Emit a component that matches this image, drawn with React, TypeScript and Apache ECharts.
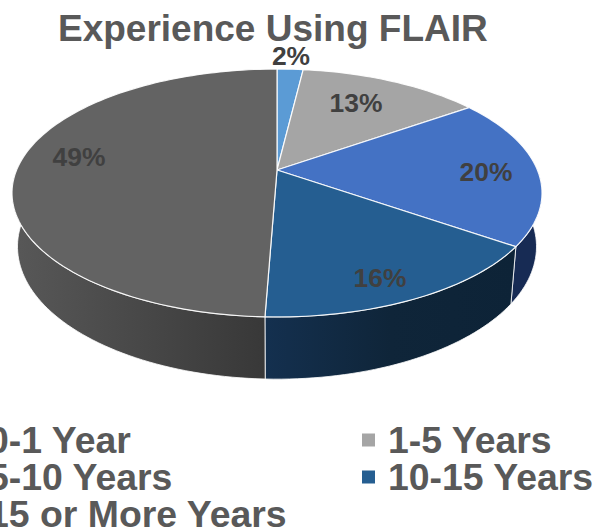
import React, { useEffect, useRef } from "react";
import * as echarts from "echarts";

const categories = ["0-1 Year", "1-5 Years", "5-10 Years", "10-15 Years", "15 or More Years"];
const values = [1.9, 13.3, 19.5, 15.9, 49.4];
const percentLabels = ["2%", "13%", "20%", "16%", "49%"];

const topColors = ["#5B9BD5", "#A5A5A5", "#4472C4", "#255E91", "#636363"];

// layout (pixels of the 602x529 page)
const APEX = { x: 277, y: 170 };
const TOP = { a: 119.7, b: 260.4, k: 0.1855, y0: 170 };
const BOTTOM = { a: 128, b: 255, k: 0.1855, y0: 222 };
const WALL_RANGE = [85, 275];
const LABEL_POS = [
  [291, 56],
  [356, 103],
  [486, 172],
  [380, 278],
  [79, 157],
];
const LEGEND_POS = [
  [-38, 421.5],
  [362, 421.5],
  [-38, 458.5],
  [362, 458.5],
  [-38, 495],
];
const FONT = "'Liberation Sans', Arial, sans-serif";

const wallFill = (i: number): any => {
  if (i === 2) return "#172B54";
  if (i === 3)
    return new echarts.graphic.LinearGradient(0, 0, 1, 0, [
      { offset: 0, color: "#14304F" },
      { offset: 0.5, color: "#0F2539" },
      { offset: 1, color: "#0D2337" },
    ]);
  if (i === 4)
    return new echarts.graphic.LinearGradient(0, 0, 1, 0, [
      { offset: 0, color: "#585858" },
      { offset: 1, color: "#383838" },
    ]);
  return "#333";
};

const project = (deg: number, g: typeof TOP) => {
  const t = (deg * Math.PI) / 180;
  const X = Math.sin(t);
  const Y = -Math.cos(t);
  const w = 1 - g.k * Y;
  return [APEX.x + (g.b * X) / w, g.y0 + (g.a * Y) / w];
};

const arc = (from: number, to: number, g: typeof TOP) => {
  const n = Math.max(2, Math.ceil(Math.abs(to - from) / 1.5));
  const pts: number[][] = [];
  for (let i = 0; i <= n; i++) pts.push(project(from + ((to - from) * i) / n, g));
  return pts;
};

export default function App() {
  const ref = useRef<HTMLDivElement>(null);
  useEffect(() => {
    const chart = echarts.init(ref.current!, undefined, { renderer: "svg" });
    const total = values.reduce((a, b) => a + b, 0);
    const series = categories.map((name, i) => ({
      type: "custom",
      name,
      coordinateSystem: "none",
      itemStyle: { color: topColors[i] },
      data: [values[i]],
      z: 2 + i,
      renderItem: (_p: any, api: any) => {
        const before = values.slice(0, i).reduce((a, b) => a + b, 0);
        const start = (before / total) * 360;
        const end = start + (api.value(0) / total) * 360;
        const children: any[] = [];
        const ws = Math.max(start, WALL_RANGE[0]);
        const we = Math.min(end, WALL_RANGE[1]);
        if (we > ws) {
          children.push({
            type: "polygon",
            shape: { points: [...arc(ws, we, TOP), ...arc(we, ws, BOTTOM)] },
            style: { fill: wallFill(i), stroke: "rgba(255,255,255,0.8)", lineWidth: 1 },
          });
        }
        children.push({
          type: "polygon",
          shape: { points: [[APEX.x, APEX.y], ...arc(start, end, TOP)] },
          style: { fill: topColors[i], stroke: "rgba(255,255,255,0.9)", lineWidth: 1.2 },
        });
        children.push({
          type: "text",
          z2: 10,
          x: LABEL_POS[i][0],
          y: LABEL_POS[i][1],
          style: {
            text: percentLabels[i],
            font: `bold 26.4px ${FONT}`,
            fill: "#404040",
            align: "center",
            verticalAlign: "middle",
          },
        });
        return { type: "group", children };
      },
    }));
    chart.setOption({
      animation: false,
      backgroundColor: "#ffffff",
      title: {
        text: "Experience Using FLAIR",
        left: 58,
        top: 10,
        padding: 0,
        textStyle: { fontFamily: FONT, fontSize: 37, fontWeight: "bold", color: "#595959" },
      },
      legend: categories.map((name, i) => ({
        data: [name],
        left: LEGEND_POS[i][0],
        top: LEGEND_POS[i][1],
        padding: 0,
        icon: "rect",
        itemWidth: 13,
        itemHeight: 13,
        itemGap: 0,
        textStyle: {
          fontFamily: FONT,
          fontSize: 37.4,
          fontWeight: "bold",
          color: "#595959",
          padding: [0, 0, 0, 8],
        },
      })),
      series,
    });
    return () => chart.dispose();
  }, []);
  return (
    <div
      ref={ref}
      style={{ position: "absolute", left: 0, top: 0, width: 602, height: 529, overflow: "hidden" }}
    />
  );
}
